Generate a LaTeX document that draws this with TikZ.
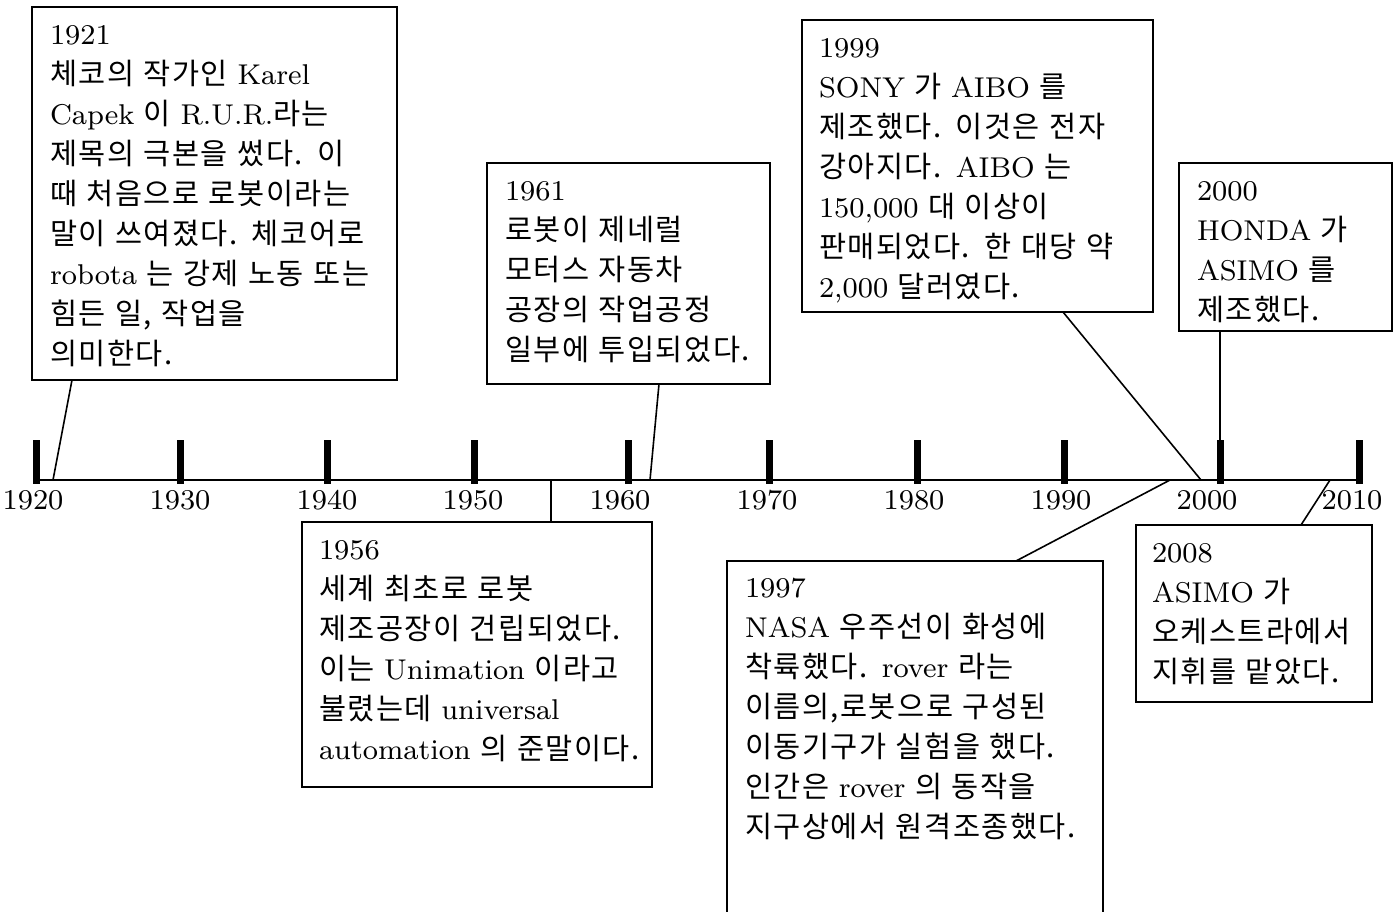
\documentclass[tikz,border=0pt]{standalone}
\usepackage{fontspec}
\setmainfont{lmroman8-regular.otf}
\newfontfamily\krfont{Noto Sans CJK KR}[Scale=1.03,LetterSpace=5]
\newcommand\K[1]{{\krfont\fontdimen2\font=11pt\relax #1}}
\usetikzlibrary{calc}
\tikzset{
  box/.style={draw, line width=1pt, inner sep=0pt, outer sep=0pt, anchor=north west},
  txt/.style={anchor=north west, inner sep=0pt, outer sep=0pt, align=left, text width=190pt,
              font=\fontsize{14.3}{20}\selectfont},
  yearlbl/.style={anchor=base, inner sep=0pt, font=\fontsize{14.3}{20}\selectfont},
  tickmark/.style={line width=3.5pt},
  axis/.style={line width=1pt},
  conn/.style={line width=0.8pt}
}
\begin{document}
\begin{tikzpicture}[x=0.5pt,y=-0.5pt]
\useasboundingbox (0,0) rectangle (1397,911);
\clip (0,0) rectangle (1397,911);
\fill[white] (0,0) rectangle (1397,911);

% timeline
\coordinate (tl0) at (33,480);
\coordinate (tl1) at (1362,480);
\draw[axis] (tl0) -- (tl1);
\foreach \x in {36,180,327,474,628,769,917,1064,1220,1359}
  \draw[tickmark] (\x,440) -- (\x,484);

% year labels
\node[yearlbl] (y1920) at (33,509) {1920};
\node[yearlbl] (y1930) at (180,509) {1930};
\node[yearlbl] (y1940) at (327,509) {1940};
\node[yearlbl] (y1950) at (473,509) {1950};
\node[yearlbl] (y1960) at (620,509) {1960};
\node[yearlbl] (y1970) at (767,509) {1970};
\node[yearlbl] (y1980) at (914,509) {1980};
\node[yearlbl] (y1990) at (1061,509) {1990};
\node[yearlbl] (y2000) at (1207,509) {2000};
\node[yearlbl] (y2010) at (1352,509) {2010};

% timeline anchor points
\coordinate (p1921) at (53,480);
\coordinate (p1956) at (551,480);
\coordinate (p1961) at (650,480);
\coordinate (p1997) at (1170,480);
\coordinate (p1999) at (1201,480);
\coordinate (p2000) at (1220,480);
\coordinate (p2008) at (1330,480);

% boxes
\node[box, minimum width=182.5pt, minimum height=186.5pt] (bA) at (32,7) {};
\node[box, minimum width=141.5pt, minimum height=110.5pt] (bB) at (487,163) {};
\node[box, minimum width=175pt, minimum height=132.5pt] (bC) at (302,522) {};
\node[box, minimum width=175.5pt, minimum height=146pt] (bD) at (802,20) {};
\node[box, minimum width=106.5pt, minimum height=84pt] (bE) at (1179,163) {};
\node[box, minimum width=188pt, minimum height=190pt] (bF) at (727,561) {};
\node[box, minimum width=118pt, minimum height=88.5pt] (bG) at (1136,525) {};

% texts
\node[txt] (tA) at ($(bA.north west)+(18,18)$) {1921\\
\K{체코의 작가인 }Karel\\
Capek \K{이 }R.U.R.\K{라는}\\
\K{제목의 극본을 썼다. 이}\\
\K{때 처음으로 로봇이라는}\\
\K{말이 쓰여졌다. 체코어로}\\
robota \K{는 강제 노동 또는}\\
\K{힘든 일, 작업을}\\
\K{의미한다.}};

\node[txt] (tB) at ($(bB.north west)+(18,18)$) {1961\\
\K{로봇이 제네럴}\\
\K{모터스 자동차}\\
\K{공장의 작업공정}\\
\K{일부에 투입되었다.}};

\node[txt] (tC) at ($(bC.north west)+(17,18)$) {1956\\
\K{세계 최초로 로봇}\\
\K{제조공장이 건립되었다.}\\
\K{이는 }Unimation \K{이라고}\\
\K{불렸는데 }universal\\
automation \K{의 준말이다.}};

\node[txt] (tD) at ($(bD.north west)+(17,18)$) {1999\\
SONY \K{가 }AIBO \K{를}\\
\K{제조했다. 이것은 전자}\\
\K{강아지다. }AIBO \K{는}\\
150,000 \K{대 이상이}\\
\K{판매되었다. 한 대당 약}\\
2,000 \K{달러였다.}};

\node[txt] (tE) at ($(bE.north west)+(18,18)$) {2000\\
HONDA \K{가}\\
ASIMO \K{를}\\
\K{제조했다.}};

\node[txt] (tF) at ($(bF.north west)+(18,17)$) {1997\\
NASA \K{우주선이 화성에}\\
\K{착륙했다. }rover \K{라는}\\
\K{이름의,로봇으로 구성된}\\
\K{이동기구가 실험을 했다.}\\
\K{인간은 }rover \K{의 동작을}\\
\K{지구상에서 원격조종했다.}};

\node[txt] (tG) at ($(bG.north west)+(16,18)$) {2008\\
ASIMO \K{가}\\
\K{오케스트라에서}\\
\K{지휘를 맡았다.}};

% connectors
\draw[conn] ($(bA.south west)+(40,0)$) -- (p1921);
\draw[conn] ($(bB.south west)+(172,0)$) -- (p1961);
\draw[conn] (p1956) -- ($(bC.north west)+(249,0)$);
\draw[conn] ($(bD.south west)+(261,0)$) -- (p1999);
\draw[conn] ($(bE.south west)+(41,0)$) -- (p2000);
\draw[conn] ($(bF.north west)+(289,0)$) -- (p1997);
\draw[conn] ($(bG.north west)+(165,0)$) -- (p2008);
\end{tikzpicture}
\end{document}
